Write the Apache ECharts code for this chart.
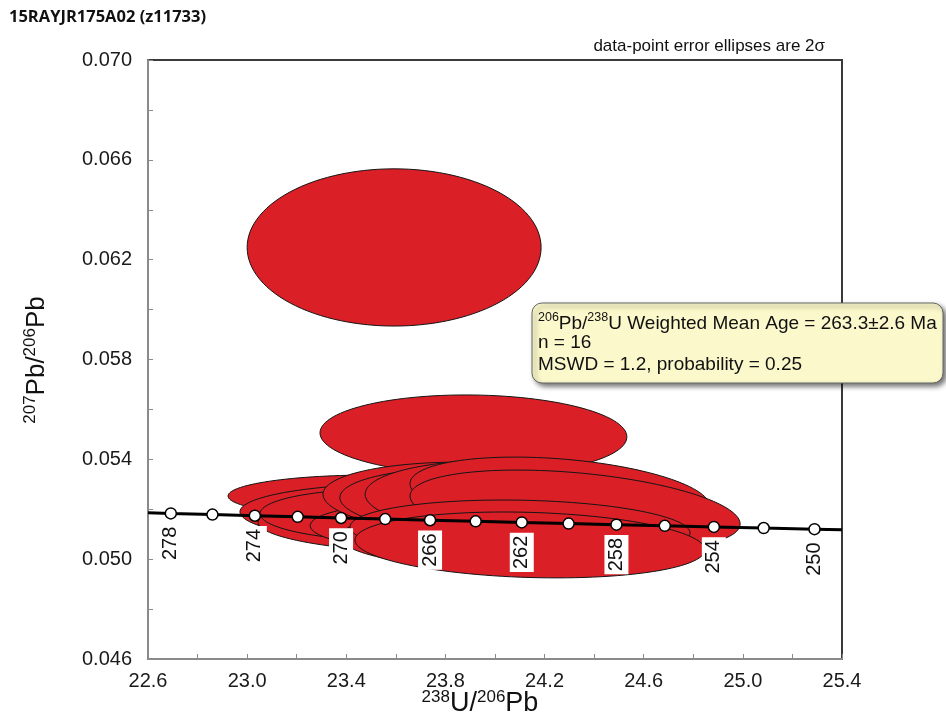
<!DOCTYPE html>
<html>
<head>
<meta charset="utf-8">
<script src="https://cdn.jsdelivr.net/npm/echarts@6/dist/echarts.min.js"></script>
<style>
html,body{margin:0;padding:0;background:#fff;}
#chart{width:946px;height:717px;}
</style>
</head>
<body>
<div id="chart"></div>
<script>
// Concordia age marks (Ma) and their coordinates
const ages = [278, 276, 274, 272, 270, 268, 266, 264, 262, 260, 258, 256, 254, 252, 250];
const concX = [22.692, 22.860, 23.031, 23.204, 23.379, 23.557, 23.738, 23.922, 24.108, 24.297, 24.490, 24.685, 24.883, 25.084, 25.289];
const concY = [0.051832, 0.051787, 0.051741, 0.051696, 0.051651, 0.051606, 0.051561, 0.051516, 0.051471, 0.051427, 0.051382, 0.051337, 0.051293, 0.051248, 0.051203];
const labelledAges = [278, 274, 270, 266, 262, 258, 254, 250];
const concStart = [22.6, 0.051857];
const concEnd = [25.4, 0.051179];

// Error ellipses (2 sigma): centre, half-widths, correlation
const ellCX  = [23.593, 23.913, 23.496, 23.673, 23.778, 23.738, 23.576, 23.839, 23.960, 24.020, 24.081, 24.262, 24.323, 24.020, 24.101, 24.141];
const ellCY  = [0.06249, 0.05498, 0.05253, 0.05157, 0.05177, 0.05137, 0.05177, 0.05129, 0.05237, 0.05225, 0.05245, 0.05257, 0.05197, 0.05077, 0.05117, 0.05057];
const ellSX  = [0.593, 0.619, 0.573, 0.561, 0.807, 0.694, 0.524, 0.585, 0.654, 0.646, 0.605, 0.605, 0.666, 0.646, 0.686, 0.706];
const ellSY  = [0.00315, 0.00160, 0.00084, 0.00128, 0.00128, 0.00112, 0.00104, 0.00104, 0.00152, 0.00144, 0.00152, 0.00152, 0.00160, 0.00120, 0.00120, 0.00132];
const ellRho = [0, -0.05, 0, -0.05, -0.1, -0.1, -0.05, -0.05, -0.15, -0.15, -0.1, -0.3, -0.35, -0.1, -0.1, -0.15];

const xMin = 22.6, xMax = 25.4, xStep = 0.2;
const yMin = 0.046, yMax = 0.070, yStep = 0.002;

const titleText = '15RAYJR175A02 (z11733)';
const noteText = 'data-point error ellipses are 2\u03C3';
const infoLines = ['{s|206}{m|Pb/}{s|238}{m|U Weighted Mean Age = 263.3\u00B12.6 Ma}', 'n = 16', 'MSWD = 1.2, probability = 0.25'];

const FONT = '"Liberation Sans", Arial, sans-serif';

const ellData = ellCX.map((v, i) => [v, ellCY[i], ellSX[i], ellSY[i], ellRho[i]]);
const lineData = [concStart].concat(concX.map((v, i) => [v, concY[i]])).concat([concEnd]);
const pointData = concX.map((v, i) => {
  const item = {value: [v, concY[i], ages[i]]};
  if (labelledAges.indexOf(ages[i]) < 0) item.label = {show: false};
  return item;
});

const chart = echarts.init(document.getElementById('chart'), null, {renderer: 'canvas'});

const option = {
  animation: false,
  backgroundColor: '#ffffff',
  grid: {left: 148, right: 104, top: 60, bottom: 58, show: true, borderColor: '#3a3a3a', borderWidth: 2, backgroundColor: 'transparent'},
  xAxis: {
    type: 'value', min: xMin, max: xMax, interval: xStep,
    axisLine: {show: true, onZero: false, lineStyle: {color: '#8a8a8a', width: 2}},
    axisTick: {show: true, inside: true, length: 5, lineStyle: {color: '#8a8a8a', width: 1}},
    splitLine: {show: false},
    axisLabel: {
      margin: 12, fontSize: 20, color: '#1a1a1a', fontFamily: FONT,
      formatter: function (v) {
        const k = Math.round((v - xMin) / xStep);
        return k % 2 === 0 ? v.toFixed(1) : '';
      }
    }
  },
  yAxis: {
    type: 'value', min: yMin, max: yMax, interval: yStep,
    axisLine: {show: true, onZero: false, lineStyle: {color: '#8a8a8a', width: 2}},
    axisTick: {show: true, inside: true, length: 5, lineStyle: {color: '#8a8a8a', width: 1}},
    splitLine: {show: false},
    axisLabel: {
      margin: 16, fontSize: 20, color: '#1a1a1a', fontFamily: FONT,
      formatter: function (v) {
        const k = Math.round((v - yMin) / yStep);
        return k % 2 === 0 ? v.toFixed(3) : '';
      }
    }
  },
  series: [
    {
      type: 'custom',
      z: 2,
      data: ellData,
      encode: {x: 0, y: 1},
      renderItem: function (params, api) {
        const cx = api.value(0), cy = api.value(1), sx = api.value(2), sy = api.value(3), rho = api.value(4);
        const q = Math.sqrt(1 - rho * rho);
        const pts = [];
        const N = 120;
        for (let k = 0; k < N; k++) {
          const t = 2 * Math.PI * k / N;
          const x = cx + sx * Math.cos(t);
          const y = cy + sy * (rho * Math.cos(t) + q * Math.sin(t));
          pts.push(api.coord([x, y]));
        }
        return {type: 'polygon', shape: {points: pts}, style: {fill: '#DA1F26', stroke: '#151515', lineWidth: 1}};
      }
    },
    {
      type: 'line',
      z: 5,
      data: lineData,
      showSymbol: false,
      symbol: 'none',
      lineStyle: {color: '#000', width: 3},
      silent: true
    },
    {
      type: 'scatter',
      z: 6,
      data: pointData,
      symbol: 'circle',
      symbolSize: 11,
      itemStyle: {color: '#ffffff', borderColor: '#000', borderWidth: 1.5, opacity: 1},
      emphasis: {disabled: true},
      label: {
        show: true,
        position: 'bottom',
        distance: 4,
        rotate: 90,
        align: 'right',
        verticalAlign: 'middle',
        fontSize: 20,
        fontFamily: FONT,
        color: '#111',
        opacity: 1,
        backgroundColor: '#ffffff',
        padding: [2, 3, 2, 3],
        formatter: function (p) { return String(p.value[2]); }
      }
    }
  ],
  graphic: [
    {type: 'text', left: 9, top: 9, z: 10,
     style: {text: titleText, fontFamily: '"Open Sans", sans-serif', fontWeight: 'bold', fontSize: 16.5, fill: '#111'}},
    {type: 'text', x: 825, y: 46, z: 10,
     style: {text: noteText, fontFamily: FONT, fontSize: 17, fill: '#111', align: 'right', verticalAlign: 'middle'}},
    {type: 'text', x: 480, y: 703, z: 10,
     style: {text: '{s|238}{m|U/}{s|206}{m|Pb}', align: 'center', verticalAlign: 'middle',
       rich: {s: {fontSize: 17, fontFamily: FONT, fill: '#111', verticalAlign: 'top', lineHeight: 26},
              m: {fontSize: 27, fontFamily: FONT, fill: '#111', verticalAlign: 'bottom', lineHeight: 28}}}},
    {type: 'text', x: 36, y: 360, rotation: Math.PI / 2, z: 10,
     style: {text: '{s|207}{m|Pb/}{s|206}{m|Pb}', align: 'center', verticalAlign: 'middle',
       rich: {s: {fontSize: 17, fontFamily: FONT, fill: '#111', verticalAlign: 'top', lineHeight: 26},
              m: {fontSize: 26, fontFamily: FONT, fill: '#111', verticalAlign: 'bottom', lineHeight: 28}}}},
    {type: 'rect', z: 20, shape: {x: 532, y: 303, width: 411, height: 80, r: 10},
     style: {fill: '#FBF8CB', stroke: '#666', lineWidth: 1, shadowBlur: 5, shadowOffsetX: 3, shadowOffsetY: 3, shadowColor: 'rgba(0,0,0,0.55)'}},
    {type: 'text', z: 21, x: 538, y: 322,
     style: {text: infoLines[0], verticalAlign: 'middle',
       rich: {s: {fontSize: 12.5, fontFamily: FONT, fill: '#111', verticalAlign: 'top', lineHeight: 20},
              m: {fontSize: 19, fontFamily: FONT, fill: '#111', verticalAlign: 'bottom', lineHeight: 22}}}},
    {type: 'text', z: 21, x: 538, y: 343,
     style: {text: infoLines[1], fontSize: 19, fontFamily: FONT, fill: '#111', verticalAlign: 'middle'}},
    {type: 'text', z: 21, x: 538, y: 365,
     style: {text: infoLines[2], fontSize: 19, fontFamily: FONT, fill: '#111', verticalAlign: 'middle'}}
  ]
};
chart.setOption(option);
</script>
</body>
</html>
